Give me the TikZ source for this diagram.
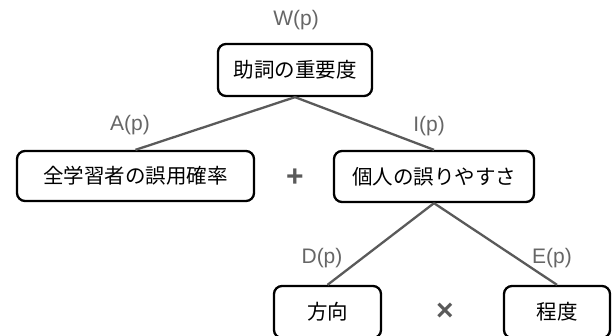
\documentclass[tikz,border=0pt]{standalone}
\usepackage{fontspec}
\setmainfont{Liberation Sans}
\newfontfamily\jp{Noto Sans CJK JP}
\definecolor{lbl}{HTML}{666666}
\definecolor{edge}{HTML}{5A5A5A}
\begin{document}
\begin{tikzpicture}[x=1pt,y=-1pt,
  box/.style={draw=black,line width=2.3pt,rounded corners=8pt,inner sep=0pt,
    font=\jp\fontsize{20.5}{24}\selectfont,text=black},
  lab/.style={text=lbl,font=\fontsize{21}{25}\selectfont,inner sep=0pt},
  op/.style={text=edge,font=\bfseries\fontsize{30}{34}\selectfont,inner sep=0pt},
  conn/.style={draw=edge,line width=2.3pt}]
\useasboundingbox (0,0) rectangle (612,336);
\node[box,minimum width=154pt,minimum height=52pt] (w) at (295,70) {助詞の重要度};
\node[box,minimum width=237pt,minimum height=50pt] (a) at (135.5,176) {全学習者の誤用確率};
\node[box,minimum width=200pt,minimum height=51pt] (i) at (434,176.5) {個人の誤りやすさ};
\node[box,minimum width=107pt,minimum height=52pt] (d) at (327.5,312) {方向};
\node[box,minimum width=106pt,minimum height=52pt] (e) at (557,312) {程度};
\node[lab] (wl) at (296,20) {W(p)};
\node[lab] (al) at (130,125) {A(p)};
\node[lab] (il) at (429,126) {I(p)};
\node[lab] (dl) at (322,258) {D(p)};
\node[lab] (el) at (552,258) {E(p)};
\node[op] (plus) at (295,178) {+};
\node[op] (times) at (445,312) {×};
\draw[conn] (w.south) -- (a.north);
\draw[conn] (w.south) -- (i.north);
\draw[conn] (i.south) -- (d.north);
\draw[conn] (i.south) -- (e.north);
\end{tikzpicture}
\end{document}
